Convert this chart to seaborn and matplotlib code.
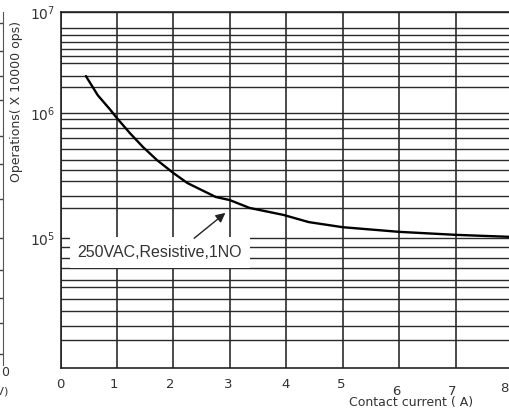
import numpy as np
import pandas as pd
import seaborn as sns
import matplotlib.pyplot as plt
from matplotlib.ticker import FixedLocator, NullFormatter
from matplotlib.transforms import ScaledTranslation

# curve (current in A, operations)
current = [0.45, 0.66, 0.88, 1.0, 1.23, 1.46, 1.71, 2.0, 2.25, 2.5, 2.75, 3.0,
           3.35, 3.95, 4.4, 5.0, 6.0, 7.0, 8.0]
operations = [2.32e6, 1.5e6, 1.08e6, 9.1e5, 6.9e5, 5.35e5, 4.2e5, 3.31e5, 2.75e5,
              2.42e5, 2.13e5, 2.01e5, 1.74e5, 1.53e5, 1.34e5, 1.22e5, 1.12e5,
              1.06e5, 1.02e5]

x_ticks = [0, 1, 2, 3, 4, 5, 6, 7, 8]
y_major = [1e5, 1e6, 1e7]
y_major_labels = ["$10^5$", "$10^6$", "$10^7$"]
# the chart's own (irregular) horizontal rulings
y_grid = [7e6, 5.9e6, 5.05e6, 4.3e6, 3.65e6, 3.1e6, 2.3e6, 1.8e6,
          9e5, 7.6e5, 6.3e5, 5.15e5, 4.2e5, 3.5e5, 2.85e5, 2.15e5, 1.75e5,
          8.5e4, 7e4, 5.9e4, 4.75e4, 4.2e4, 3.4e4, 2.75e4, 2.1e4, 1.65e4]
side_grid = [0.03, 0.12, 0.19, 0.27, 0.36, 0.47, 0.57, 0.65, 0.75, 0.82, 0.89, 0.97]

note = "250VAC,Resistive,1NO"

# the printed decades are not equally tall, so use a piecewise log scale
decades = [4, 5, 6, 7]
decade_pos = [0, 130, 255, 356]


def fwd(v):
    return np.interp(np.log10(np.clip(v, 1e-12, None)), decades, decade_pos)


def inv(p):
    return 10 ** np.interp(p, decade_pos, decades)


sns.set_style("white")
plt.rcParams["font.family"] = ["DejaVu Sans"]

W, H = 509, 412
fig = plt.figure(figsize=(W / 100, H / 100), dpi=100)
ax = fig.add_axes([60.5 / W, 44 / H, 451.5 / W, 356 / H])
ax.set_yscale("function", functions=(fwd, inv))

df = pd.DataFrame({"current": current, "operations": operations})
sns.lineplot(data=df, x="current", y="operations", color="black", lw=1.7, ax=ax)

ax.set_xlim(0, 8)
ax.set_ylim(1e4, 1e7)
ax.set_xticks(x_ticks)
ax.set_yticks(y_major, y_major_labels)
ax.yaxis.set_minor_locator(FixedLocator(y_grid))
ax.yaxis.set_minor_formatter(NullFormatter())

ax.grid(True, which="both", axis="y", color="#2a2a2a", lw=1.0)
ax.grid(True, which="major", axis="x", color="#1a1a1a", lw=1.1)
ax.tick_params(which="both", length=0, colors="#333333")
ax.tick_params(axis="x", labelsize=9.5, pad=7)
ax.tick_params(axis="y", labelsize=10, pad=4)
xt = ax.xaxis.get_major_ticks()
xt[6].set_pad(12)
xt[7].set_pad(12)
xt[8].set_pad(10)
# the printed numbers sit a little left of their rulings
shifts = [0, -3, -3, -2, -1, -2, -3, -3, -8]
for lab, dx in zip(ax.get_xticklabels(), shifts):
    lab.set_transform(lab.get_transform() + ScaledTranslation(dx / 100, 0, fig.dpi_scale_trans))

for side in ["left", "bottom", "top"]:
    ax.spines[side].set_color("#222222")
    ax.spines[side].set_linewidth(1.2)
ax.spines["right"].set_visible(False)

ax.set_xlabel("Contact current ( A)", fontsize=9, color="#333333")
ax.xaxis.set_label_coords(0.776, -0.08)
ax.set_ylabel("Operations( X 10000 ops)", fontsize=9, color="#333333")
ax.yaxis.set_label_coords(-0.083, 0.75)

ax.text(1.76, 7.8e4, note, fontsize=11.5, family="Liberation Sans", color="#333333",
        ha="center", va="center", zorder=4,
        bbox=dict(boxstyle="square,pad=0.5", fc="white", ec="none"))
ax.annotate("", xy=(2.96, 1.64e5), xytext=(2.33, 9.65e4), zorder=5,
            arrowprops=dict(arrowstyle="-|>", color="#222222", lw=1.0,
                            mutation_scale=14))

# edge of the neighbouring chart that is cut off on the left
side = fig.add_axes([-60 / W, 47 / H, 62.5 / W, 353 / H])
side.set_xlim(0, 1)
side.set_ylim(0, 1)
side.set_yticks(side_grid)
side.set_xticks([])
side.tick_params(length=0, labelleft=False)
side.grid(True, axis="y", color="#444444", lw=1.0)
for s in ["left", "top", "bottom"]:
    side.spines[s].set_visible(False)
side.spines["right"].set_color("#555555")
fig.text(5 / W, 1 - 373 / H, "0", fontsize=9, color="#333333", ha="center", va="center")
fig.text(8 / W, 1 - 391 / H, "(V)", fontsize=8, color="#333333", ha="right", va="center")

fig.savefig("out.png", dpi=100)
